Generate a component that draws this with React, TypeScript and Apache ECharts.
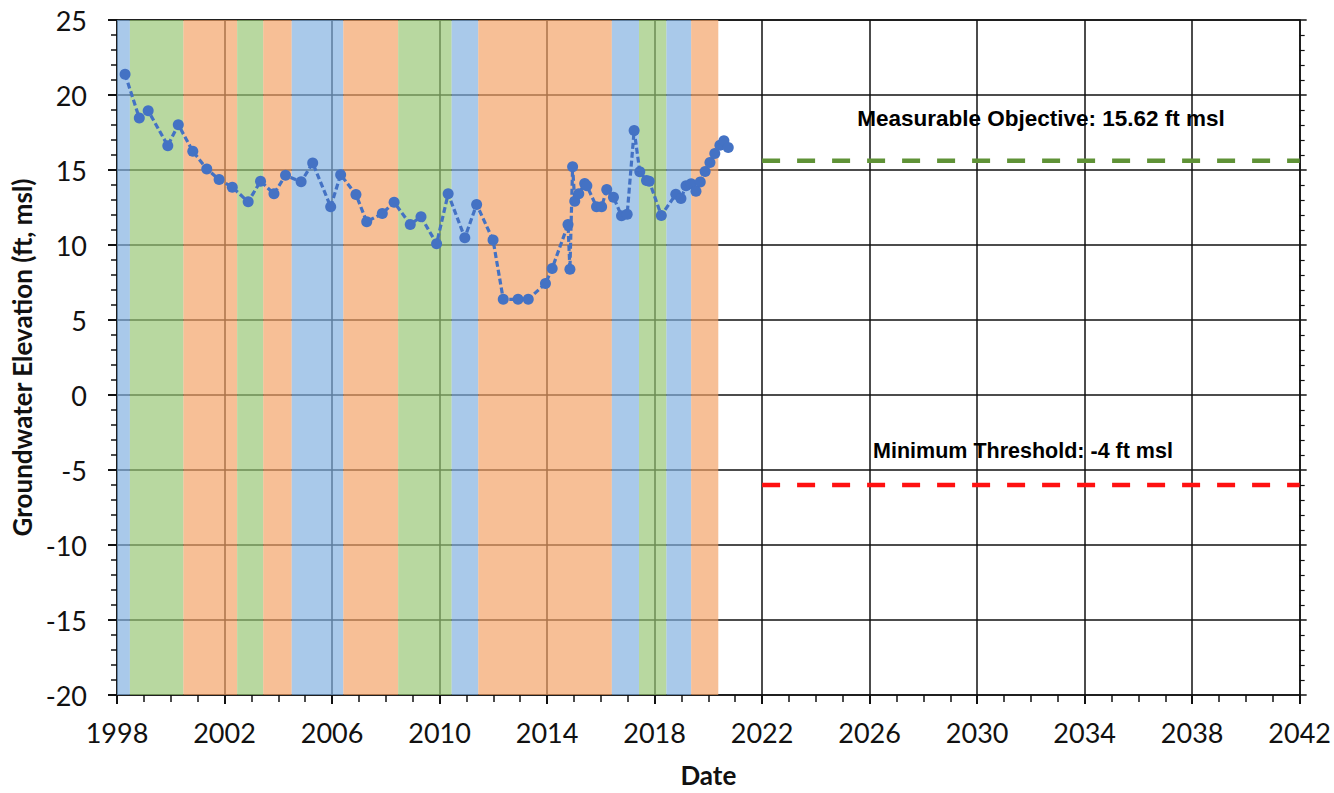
import React, { useEffect, useRef } from "react";
import * as echarts from "echarts";

// Measured groundwater elevations (decimal year, ft msl)
const YEARS = [
  1998.30, 1998.83, 1999.16, 1999.89, 2000.28, 2000.82, 2001.34, 2001.80, 2002.29, 2002.88,
  2003.34, 2003.84, 2004.27, 2004.85, 2005.28, 2005.95, 2006.32, 2006.89, 2007.29, 2007.87,
  2008.31, 2008.91, 2009.31, 2009.89, 2010.32, 2010.94, 2011.38, 2011.99, 2012.37, 2012.92,
  2013.30, 2013.94, 2014.19, 2014.78, 2014.85, 2014.95, 2015.03, 2015.18, 2015.40, 2015.48,
  2015.84, 2016.03, 2016.22, 2016.47, 2016.77, 2016.98, 2017.24, 2017.45, 2017.70, 2017.80,
  2018.25, 2018.79, 2018.98, 2019.17, 2019.36, 2019.54, 2019.70, 2019.88, 2020.06, 2020.24,
  2020.43, 2020.58, 2020.74,
];
const LEVELS = [
  21.39, 18.46, 18.95, 16.62, 18.02, 16.25, 15.07, 14.36, 13.85, 12.88,
  14.25, 13.41, 14.65, 14.21, 15.47, 12.55, 14.69, 13.36, 11.55, 12.10,
  12.85, 11.37, 11.88, 10.09, 13.41, 10.49, 12.70, 10.33, 6.38, 6.38,
  6.38, 7.43, 8.44, 11.37, 8.38, 15.21, 12.92, 13.41, 14.10, 13.95,
  12.55, 12.55, 13.70, 13.19, 11.95, 12.05, 17.64, 14.88, 14.30, 14.25,
  11.97, 13.38, 13.10, 13.95, 14.08, 13.59, 14.20, 14.90, 15.50, 16.10,
  16.65, 16.95, 16.50,
];

// Water-year type bands
const BAND_START = [1998.0, 1998.48, 2000.47, 2002.47, 2003.44, 2004.5, 2006.42, 2008.46, 2010.45, 2011.44, 2016.41, 2017.42, 2018.44, 2019.36];
const BAND_END = [1998.48, 2000.47, 2002.47, 2003.44, 2004.5, 2006.42, 2008.46, 2010.45, 2011.44, 2016.41, 2017.42, 2018.44, 2019.36, 2020.37];
const BAND_TYPE = ["wet", "normal", "dry", "normal", "dry", "wet", "dry", "normal", "wet", "dry", "wet", "normal", "wet", "dry"];
const BAND_COLORS: Record<string, string> = {
  wet: "rgba(128,175,224,0.68)",
  normal: "rgba(150,198,115,0.68)",
  dry: "rgba(243,160,100,0.68)",
};

// Sustainable management criteria lines
const LINE_X = [2022, 2042];
const MO_VALUE = 15.62;
const MT_VALUE = -6;
const MO_LABEL = "Measurable Objective: 15.62 ft msl";
const MT_LABEL = "Minimum Threshold: -4 ft msl";

export default function App() {
  const ref = useRef<HTMLDivElement>(null);
  useEffect(() => {
    if (!ref.current) return;
    const chart = echarts.init(ref.current, undefined, { renderer: "svg" });
    const tickFont = { fontFamily: "Lato", fontSize: 27, color: "#111" };
    const axisLine = { show: true, onZero: false, lineStyle: { color: "#111", width: 1.5 } };
    const option: any = {
      animation: false,
      backgroundColor: "#fff",
      grid: { left: 117, right: 34, top: 20, bottom: 96, containLabel: false },
      xAxis: [
        {
          type: "value",
          min: 1998,
          max: 2042,
          interval: 4,
          position: "bottom",
          axisLine,
          axisTick: { show: true, length: 9, lineStyle: { color: "#111", width: 2 } },
          minorTick: { show: true, splitNumber: 4, length: 7, lineStyle: { color: "#111", width: 1.5 } },
          axisLabel: { ...tickFont, margin: 24, showMinLabel: true, showMaxLabel: true, formatter: (v: number) => String(v) },
          splitLine: { show: true, lineStyle: { color: "#111", width: 1.5 } },
          name: "Date",
          nameLocation: "middle",
          nameGap: 67,
          nameTextStyle: { fontFamily: "Lato", fontWeight: "bold", fontSize: 26, color: "#111" },
        },
        {
          type: "value",
          min: 1998,
          max: 2042,
          interval: 4,
          position: "top",
          axisLine,
          axisTick: { show: false },
          minorTick: { show: false },
          axisLabel: { show: false },
          splitLine: { show: false },
        },
      ],
      yAxis: [
        {
          type: "value",
          min: -20,
          max: 25,
          interval: 5,
          position: "left",
          axisLine,
          axisTick: { show: true, length: 9, lineStyle: { color: "#111", width: 2 } },
          minorTick: { show: true, splitNumber: 5, length: 6, lineStyle: { color: "#111", width: 1.5 } },
          axisLabel: { ...tickFont, margin: 30 },
          splitLine: { show: true, lineStyle: { color: "#111", width: 1.5 } },
          name: "Groundwater Elevation (ft, msl)",
          nameLocation: "middle",
          nameGap: 80,
          nameTextStyle: { fontFamily: "Lato", fontWeight: "bold", fontSize: 26, color: "#111" },
        },
        {
          type: "value",
          min: -20,
          max: 25,
          interval: 5,
          position: "right",
          axisLine,
          axisTick: { show: true, length: 7, lineStyle: { color: "#111", width: 1.5 } },
          minorTick: { show: true, splitNumber: 5, length: 5, lineStyle: { color: "#111", width: 1.2 } },
          axisLabel: { show: false },
          splitLine: { show: false },
        },
      ],
      series: [
        {
          type: "line",
          name: "bands",
          data: [],
          z: 1,
          silent: true,
          markArea: {
            silent: true,
            data: BAND_START.map((s, i) => [
              { xAxis: s, itemStyle: { color: BAND_COLORS[BAND_TYPE[i]] } },
              { xAxis: BAND_END[i] },
            ]),
          },
        },
        {
          type: "line",
          name: "Groundwater Elevation",
          data: YEARS.map((y, i) => [y, LEVELS[i]]),
          z: 5,
          symbol: "circle",
          symbolSize: 11,
          itemStyle: { color: "#4472c4" },
          lineStyle: { color: "#4472c4", width: 3.2, type: [6, 3] },
        },
        {
          type: "line",
          name: "Measurable Objective",
          data: LINE_X.map((x) => [x, MO_VALUE]),
          z: 4,
          symbol: "none",
          lineStyle: { color: "#5f9236", width: 4.5, type: [18, 17] },
        },
        {
          type: "line",
          name: "Minimum Threshold",
          data: LINE_X.map((x) => [x, MT_VALUE]),
          z: 4,
          symbol: "none",
          lineStyle: { color: "#ff1010", width: 4.5, type: [18, 17] },
        },
      ],
      graphic: [
        {
          type: "text",
          x: 1041,
          y: 118,
          style: {
            text: MO_LABEL,
            fontFamily: "Liberation Sans",
            fontWeight: "bold",
            fontSize: 22.5,
            fill: "#000",
            textAlign: "center",
            textVerticalAlign: "middle",
          },
          z: 10,
        },
        {
          type: "text",
          x: 1023,
          y: 451,
          style: {
            text: MT_LABEL,
            fontFamily: "Liberation Sans",
            fontWeight: "bold",
            fontSize: 21.5,
            fill: "#000",
            textAlign: "center",
            textVerticalAlign: "middle",
          },
          z: 10,
        },
      ],
    };
    chart.setOption(option);
    return () => chart.dispose();
  }, []);
  return (
    <div
      ref={ref}
      style={{ position: "fixed", left: 0, top: 0, width: 1334, height: 793, background: "#fff" }}
    />
  );
}
